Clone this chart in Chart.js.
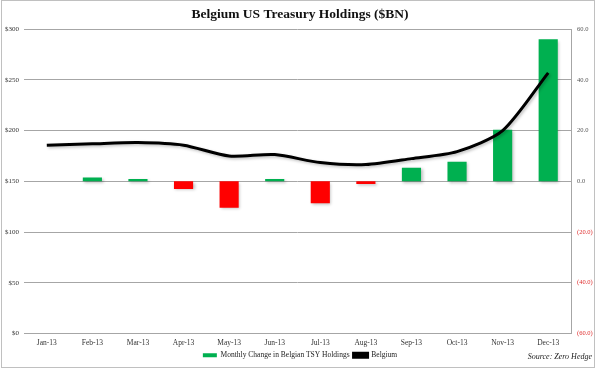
<!DOCTYPE html>
<html>
<head>
<meta charset="utf-8">
<script src="https://cdn.jsdelivr.net/npm/chart.js@4"></script>
<style>
  html, body { margin: 0; padding: 0; background: #fff; }
  #wrap { width: 600px; height: 369px; position: relative; }
</style>
</head>
<body>
<div id="wrap"><canvas id="c" width="600" height="369"></canvas></div>
<script>
const categories = ['Jan-13','Feb-13','Mar-13','Apr-13','May-13','Jun-13','Jul-13','Aug-13','Sep-13','Oct-13','Nov-13','Dec-13'];
const monthlyChange = [null, 1.5, 0.9, -3.0, -10.4, 0.9, -8.6, -1.0, 5.4, 7.7, 20.3, 56.0];
const belgiumHoldings = [185.6, 187.0, 188.2, 185.6, 175.0, 176.4, 168.5, 166.5, 172.4, 179.3, 200.0, 257.0];
const leftTicks = [0, 50, 100, 150, 200, 250, 300];
const rightTicks = [-60, -40, -20, 0, 20, 40, 60];
const seriesNames = ['Monthly Change in Belgian TSY Holdings', 'Belgium'];
const titleText = 'Belgium US Treasury Holdings ($BN)';
const sourceText = 'Source: Zero Hedge';

const GREEN = '#00b050', RED = '#ff0000';
const serif = "'Liberation Serif', 'DejaVu Serif', serif";

const shadowPlugin = {
  id: 'shadow',
  beforeDatasetDraw(chart, args) {
    const ctx = chart.ctx;
    ctx.save();
    ctx.shadowColor = 'rgba(0,0,0,0.25)';
    ctx.shadowBlur = 3;
    ctx.shadowOffsetX = 1.5;
    ctx.shadowOffsetY = 1.5;
  },
  afterDatasetDraw(chart) { chart.ctx.restore(); }
};

const framePlugin = {
  id: 'frame',
  afterDraw(chart) {
    const ctx = chart.ctx;
    ctx.save();
    ctx.strokeStyle = '#c0c0c0';
    ctx.lineWidth = 1;
    ctx.strokeRect(1.5, 0.5, 593, 367);
    ctx.font = 'italic 8px ' + serif;
    ctx.fillStyle = '#222';
    ctx.textAlign = 'right';
    ctx.textBaseline = 'middle';
    ctx.fillText(sourceText, 592, 357);
    ctx.restore();
  }
};

new Chart(document.getElementById('c'), {
  data: {
    labels: categories,
    datasets: [
      {
        type: 'bar',
        label: seriesNames[0],
        data: monthlyChange,
        yAxisID: 'yR',
        backgroundColor: monthlyChange.map(v => (v !== null && v < 0) ? RED : GREEN),
        borderWidth: 0,
        barPercentage: 0.42,
        categoryPercentage: 1.0,
        order: 1
      },
      {
        type: 'line',
        label: seriesNames[1],
        data: belgiumHoldings,
        yAxisID: 'yL',
        borderColor: '#000',
        backgroundColor: '#000',
        borderWidth: 3,
        pointRadius: 0,
        tension: 0.25,
        order: 0
      }
    ]
  },
  options: {
    responsive: false,
    animation: false,
    layout: { padding: { left: 0, right: 0, top: 0, bottom: 0 } },
    plugins: {
      title: {
        display: true,
        text: titleText,
        color: '#111',
        font: { family: serif, size: 13.5, weight: 'bold' },
        padding: { top: 6, bottom: 7 }
      },
      legend: {
        position: 'bottom',
        labels: {
          color: '#222',
          font: { family: serif, size: 7.5 },
          boxWidth: 14,
          boxHeight: 4,
          padding: 4,
          sort: (a, b) => a.datasetIndex - b.datasetIndex
        }
      },
      tooltip: { enabled: false }
    },
    scales: {
      x: {
        grid: { display: false, drawTicks: false },
        border: { display: true, color: '#a6a6a6' },
        afterFit(s) { s.height = 14; },
        ticks: { color: '#333', font: { family: serif, size: 7.5 }, maxRotation: 0, padding: 5 }
      },
      yL: {
        position: 'left',
        min: 0, max: 300,
        afterBuildTicks(s) { s.ticks = leftTicks.map(v => ({ value: v })); },
        afterFit(s) { s.width = 24; },
        grid: { color: '#a6a6a6', drawTicks: false },
        border: { display: false },
        ticks: {
          color: '#333', font: { family: serif, size: 7 }, padding: 5,
          callback: v => '$' + v
        }
      },
      yR: {
        position: 'right',
        min: -60, max: 60,
        afterBuildTicks(s) { s.ticks = rightTicks.map(v => ({ value: v })); },
        afterFit(s) { s.width = 29; },
        grid: { display: false, drawTicks: false },
        border: { display: true, color: '#a6a6a6' },
        ticks: {
          font: { family: serif, size: 6.5 }, padding: 6,
          color: c => c.tick && c.tick.value < 0 ? '#e03030' : '#555',
          callback: v => v < 0 ? '(' + Math.abs(v).toFixed(1) + ')' : v.toFixed(1)
        }
      }
    }
  },
  plugins: [shadowPlugin, framePlugin]
});
</script>
</body>
</html>
